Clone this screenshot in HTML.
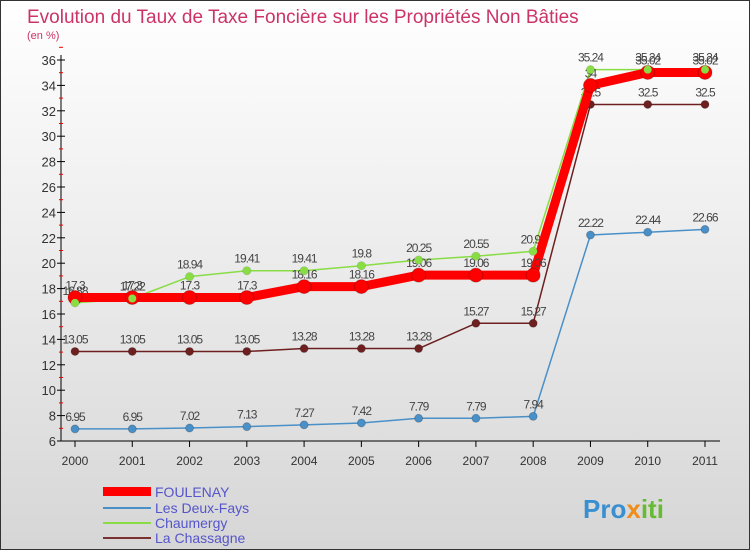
<!DOCTYPE html>
<html><head><meta charset="utf-8"><style>
body{margin:0;width:750px;height:550px;overflow:hidden;font-family:"Liberation Sans",sans-serif}
</style></head><body>
<svg width="750" height="550">
<defs><linearGradient id="bg" x1="0" y1="0" x2="0" y2="1"><stop offset="0" stop-color="#ffffff"/><stop offset="1" stop-color="#d6d6d6"/></linearGradient></defs>
<rect x="0.5" y="0.5" width="749" height="549" fill="url(#bg)" stroke="#333"/>
<text x="27" y="23" font-size="19" fill="#cc3366">Evolution du Taux de Taxe Foncière sur les Propriétés Non Bâties</text>
<text x="27" y="39" font-size="11" fill="#cc3366">(en %)</text>
<g id="axes"></g><g id="series"></g>
<g>
<rect x="103" y="487" width="48" height="9" fill="#ff0000"/>
<text x="155" y="497" font-size="14" fill="#5555cc">FOULENAY</text>
<line x1="103" y1="508" x2="151" y2="508" stroke="#4a90c8" stroke-width="2"/>
<text x="155" y="513" font-size="14" fill="#5555cc">Les Deux-Fays</text>
<line x1="103" y1="523" x2="151" y2="523" stroke="#88dd44" stroke-width="2"/>
<text x="155" y="528" font-size="14" fill="#5555cc">Chaumergy</text>
<line x1="103" y1="538" x2="151" y2="538" stroke="#7a3030" stroke-width="2"/>
<text x="155" y="543" font-size="14" fill="#5555cc">La Chassagne</text>
</g>
<text x="583" y="518" font-size="26" font-weight="bold" fill="#3a8fd0">Pro<tspan fill="#f08c1a">x</tspan><tspan fill="#66bb33">iti</tspan></text>
</svg>
<script>
const years=["2000","2001","2002","2003","2004","2005","2006","2007","2008","2009","2010","2011"];
const foulenay=[17.3,17.3,17.3,17.3,18.16,18.16,19.06,19.06,19.06,34,35.02,35.02];
const deuxFays=[6.95,6.95,7.02,7.13,7.27,7.42,7.79,7.79,7.94,22.22,22.44,22.66];
const chaumergy=[16.88,17.22,18.94,19.41,19.41,19.8,20.25,20.55,20.94,35.24,35.24,35.24];
const chassagne=[13.05,13.05,13.05,13.05,13.28,13.28,13.28,15.27,15.27,32.5,32.5,32.5];
const yTicks=[6,8,10,12,14,16,18,20,22,24,26,28,30,32,34,36];
const NS="http://www.w3.org/2000/svg";
const X=i=>75+i*(630/11);
const Y=v=>441-(v-6)*(381/30);
function mk(tag,attrs,parent){const e=document.createElementNS(NS,tag);for(const k in attrs)e.setAttribute(k,attrs[k]);parent.appendChild(e);return e;}
const ax=document.getElementById('axes');
let yl=mk('line',{x1:61,y1:55,x2:61,y2:441,stroke:'#000'},ax);


let xl=mk('line',{x1:61,y1:441,x2:720,y2:441,stroke:'#000'},ax);


yTicks.forEach(v=>{
 mk('line',{x1:57,y1:Y(v),x2:65,y2:Y(v),stroke:'#000'},ax);
 mk('line',{x1:59,y1:Y(v+1),x2:63,y2:Y(v+1),stroke:'#e00'},ax);
 const t=mk('text',{x:56,y:Y(v)+5,'font-size':13,'text-anchor':'end',fill:'#333'},ax);
 t.textContent=v;
 
 
});
years.forEach((y,i)=>{
 mk('line',{x1:X(i),y1:441,x2:X(i),y2:447,stroke:'#000'},ax);
 const t=mk('text',{x:X(i),y:465,'font-size':12,'text-anchor':'middle',fill:'#333'},ax);
 t.textContent=y;
 
 
});
const sg=document.getElementById('series');
function draw(name,vals,color,w,r){
 const g=mk('g',{},sg);
 
 
 mk('polyline',{points:vals.map((v,i)=>X(i)+','+Y(v)).join(' '),fill:'none',stroke:color,'stroke-width':w,'stroke-linejoin':'round'},g);
 vals.forEach((v,i)=>{
  const c=mk('circle',{cx:X(i),cy:Y(v),r:r,fill:color,stroke:'rgba(0,0,0,0.2)'},g);
  
  
  const t=mk('text',{x:X(i),y:Y(v)-8,'font-size':12,'text-anchor':'middle',fill:'#444','letter-spacing':'-1'},g);
  t.textContent=v;
  
  
 });
}
draw('la-chassagne',chassagne,'#6e2020',1.5,4);
draw('deux-fays',deuxFays,'#4a90c8',1.5,4);
draw('chaumergy',chaumergy,'#88dd44',1.5,4);
draw('foulenay',foulenay,'#ff0000',9,7);
// redraw chaumergy points on top
chaumergy.forEach((v,i)=>{
 const c=mk('circle',{cx:X(i),cy:Y(v),r:4,fill:'#88dd44'},sg);
 
 
});
</script>
</body></html>
